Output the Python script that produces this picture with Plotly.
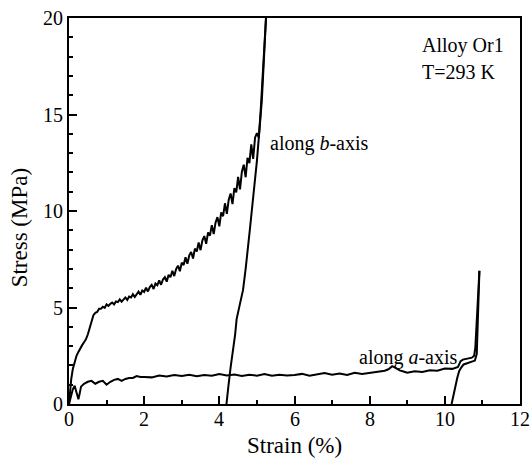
import plotly.graph_objects as go

# along b-axis: loading
b_load_x = [0.0, 0.03, 0.06, 0.10, 0.15, 0.20, 0.25, 0.30, 0.35, 0.40, 0.45, 0.50, 0.55, 0.60, 0.65,
            0.70, 0.75, 0.80, 0.85, 0.90, 0.95, 1.00, 1.05, 1.10, 1.15, 1.20, 1.25, 1.30, 1.35, 1.40, 1.45,
            1.50, 1.55, 1.60, 1.65, 1.70, 1.75, 1.80, 1.85, 1.90, 1.95, 2.00, 2.05, 2.10, 2.15, 2.20, 2.25,
            2.30, 2.35, 2.40, 2.45, 2.50, 2.55, 2.60, 2.65, 2.70, 2.75, 2.80, 2.85, 2.90, 2.95, 3.00, 3.05,
            3.10, 3.15, 3.20, 3.25, 3.30, 3.35, 3.40, 3.45, 3.50, 3.55, 3.60, 3.65, 3.70, 3.75, 3.80, 3.85,
            3.90, 3.95, 4.00, 4.05, 4.10, 4.15, 4.20, 4.25, 4.30, 4.35, 4.40, 4.45, 4.50, 4.55, 4.60, 4.65,
            4.70, 4.75, 4.80, 4.85, 4.90, 4.95, 5.00, 5.05, 5.10, 5.15, 5.20, 5.25]
b_load_y = [0.0, 0.7, 1.3, 1.8, 2.2, 2.5, 2.7, 2.9, 3.05, 3.2, 3.35, 3.6, 3.95, 4.35, 4.6,
            4.72, 4.77, 4.93, 4.93, 5.04, 4.98, 5.16, 5.08, 5.19, 5.26, 5.16, 5.31, 5.28, 5.42, 5.30, 5.44,
            5.52, 5.39, 5.57, 5.52, 5.69, 5.54, 5.72, 5.82, 5.66, 5.88, 5.81, 6.03, 5.83, 6.06, 6.17, 5.96,
            6.24, 6.15, 6.40, 6.18, 6.45, 6.57, 6.34, 6.69, 6.57, 6.90, 6.63, 6.99, 7.17, 6.88, 7.32, 7.20,
            7.60, 7.27, 7.70, 7.88, 7.54, 8.05, 7.90, 8.37, 7.97, 8.48, 8.70, 8.30, 8.89, 8.72, 9.27, 8.81,
            9.41, 9.68, 9.21, 9.93, 9.73, 10.40, 9.85, 10.59, 10.91, 10.36, 11.19, 10.97, 11.77, 11.12, 12.04, 12.40,
            11.75, 12.76, 12.48, 13.45, 12.70, 13.80, 14.03, 13.80, 15.2, 16.8, 18.4, 20.3]

# along b-axis: unloading
b_unload_x = [5.25, 5.13, 5.00, 4.87, 4.81, 4.70, 4.63, 4.55, 4.50, 4.46, 4.42, 4.37, 4.30, 4.24, 4.19]
b_unload_y = [20.3, 15.7, 12.6, 9.9, 9.0, 7.0, 5.9, 5.2, 4.7, 4.4, 3.6, 2.95, 1.9, 0.9, 0.0]

# along a-axis: loading
a_load_x = [0.0, 0.05, 0.10, 0.15, 0.20, 0.25, 0.28, 0.32, 0.40, 0.50, 0.60, 0.70, 0.80, 0.90, 1.00,
            1.10, 1.20, 1.30, 1.40, 1.50, 1.60, 1.70, 1.80, 1.90, 2.00, 2.20, 2.40, 2.60, 2.80, 3.00,
            3.20, 3.40, 3.60, 3.80, 4.00, 4.20, 4.40, 4.60, 4.80, 5.00, 5.20, 5.40, 5.60, 5.80, 6.00,
            6.20, 6.40, 6.60, 6.80, 7.00, 7.20, 7.40, 7.60, 7.80, 8.00, 8.20, 8.40, 8.50, 8.60, 8.70,
            8.80, 8.90, 9.00, 9.20, 9.40, 9.60, 9.80, 10.00, 10.20, 10.35, 10.42, 10.48, 10.60, 10.72,
            10.78, 10.81, 10.83, 10.85, 10.87, 10.89, 10.91, 10.92]
a_load_y = [0.0, 0.4, 0.75, 0.95, 0.65, 0.25, 0.5, 0.9, 1.05, 1.15, 1.2, 1.05, 1.15, 1.2, 1.0,
            1.15, 1.25, 1.3, 1.2, 1.3, 1.35, 1.35, 1.45, 1.4, 1.4, 1.38, 1.48, 1.42, 1.5, 1.45,
            1.52, 1.44, 1.5, 1.46, 1.55, 1.48, 1.53, 1.45, 1.52, 1.47, 1.55, 1.46, 1.52, 1.48, 1.5,
            1.56, 1.47, 1.54, 1.6, 1.52, 1.58, 1.5, 1.62, 1.55, 1.6, 1.66, 1.72, 1.8, 1.96, 1.86,
            1.74, 1.68, 1.62, 1.7, 1.66, 1.75, 1.72, 1.84, 1.82, 1.92, 2.22, 2.3, 2.35, 2.4,
            2.5, 2.9, 3.6, 4.5, 5.4, 6.0, 6.6, 6.9]

# along a-axis: unloading
a_unload_x = [10.92, 10.90, 10.88, 10.85, 10.80, 10.70, 10.60, 10.50, 10.44, 10.38, 10.33, 10.28, 10.23, 10.18]
a_unload_y = [6.9, 5.6, 4.0, 2.6, 2.25, 2.18, 2.12, 2.05, 1.9, 1.7, 1.35, 0.9, 0.4, 0.0]

x_ticks = [0, 2, 4, 6, 8, 10, 12]
y_ticks = [0, 5, 10, 15, 20]
minor_step = 1
x_title = "Strain (%)"
y_title = "Stress (MPa)"

FONT = "Liberation Serif"
line = dict(color="black", width=2)

fig = go.Figure()
fig.add_trace(go.Scatter(x=b_load_x, y=b_load_y, mode="lines", line=line, showlegend=False))
fig.add_trace(go.Scatter(x=b_unload_x, y=b_unload_y, mode="lines", line=line, showlegend=False))
fig.add_trace(go.Scatter(x=a_load_x, y=a_load_y, mode="lines", line=line, showlegend=False))
fig.add_trace(go.Scatter(x=a_unload_x, y=a_unload_y, mode="lines", line=line, showlegend=False))
# invisible trace so that the minor-tick overlay axes get drawn
fig.add_trace(go.Scatter(x=[x_ticks[0]], y=[y_ticks[0]], xaxis="x2", yaxis="y2", mode="markers",
                         marker=dict(opacity=0), hoverinfo="skip", showlegend=False))

fig.update_layout(
    template="none",
    width=531, height=464,
    margin=dict(l=69, r=11, t=18, b=60),
    paper_bgcolor="white", plot_bgcolor="white",
    font=dict(family=FONT, size=20, color="black"),
)


def axis(ticks_list):
    return dict(
        range=[ticks_list[0], ticks_list[-1]],
        tickmode="array", tickvals=ticks_list, showticklabels=False,
        showgrid=False, zeroline=False, showline=True, linecolor="black", linewidth=2,
        mirror=True, ticks="inside", ticklen=8, tickwidth=1.5, tickcolor="black", automargin=False,
    )


def minor_axis(ticks_list, overlay, anchor, side):
    return dict(
        range=[ticks_list[0], ticks_list[-1]], overlaying=overlay, anchor=anchor, side=side,
        tickmode="linear", tick0=ticks_list[0], dtick=minor_step,
        showgrid=False, zeroline=False, showline=False, showticklabels=False,
        ticks="inside", ticklen=4, tickwidth=1.5, tickcolor="black", automargin=False,
    )


fig.update_layout(
    xaxis=axis(x_ticks),
    yaxis=axis(y_ticks),
    xaxis2=minor_axis(x_ticks, "x", "y", "bottom"),
    yaxis2=minor_axis(y_ticks, "y", "x", "left"),
)

tick_font = dict(family=FONT, size=20, color="black")
title_font = dict(family=FONT, size=23, color="black")

# tick labels (placed through the axes' own scales)
for v in x_ticks:
    fig.add_annotation(x=v, y=y_ticks[0], xref="x", yref="y", text=str(v), showarrow=False,
                       xanchor="center", yanchor="top", yshift=-2, font=tick_font)
for v in y_ticks:
    fig.add_annotation(x=x_ticks[0], y=v, xref="x", yref="y", text=str(v), showarrow=False,
                       xanchor="right", yanchor="middle", xshift=-4, font=tick_font)

# axis titles
fig.add_annotation(x=6, y=y_ticks[0], xref="x", yref="y", text=x_title, showarrow=False,
                   xanchor="center", yanchor="top", yshift=-27, font=title_font)
fig.add_annotation(x=x_ticks[0], y=9.1, xref="x", yref="y", text=y_title, showarrow=False,
                   textangle=-90, xanchor="center", yanchor="middle", xshift=-50, font=title_font)

ann_font = dict(family=FONT, size=20, color="black")
fig.add_annotation(x=5.29, y=13.5, text="along <i>b</i>-axis", showarrow=False, xanchor="left",
                   yanchor="middle", font=ann_font)
fig.add_annotation(x=7.66, y=2.43, text="along <i>a</i>-axis", showarrow=False, xanchor="left",
                   yanchor="middle", font=ann_font)
fig.add_annotation(x=9.34, y=18.6, text="Alloy Or1", showarrow=False, xanchor="left",
                   yanchor="middle", font=ann_font)
fig.add_annotation(x=9.34, y=17.2, text="T=293 K", showarrow=False, xanchor="left",
                   yanchor="middle", font=ann_font)

fig.write_html("out.html")
